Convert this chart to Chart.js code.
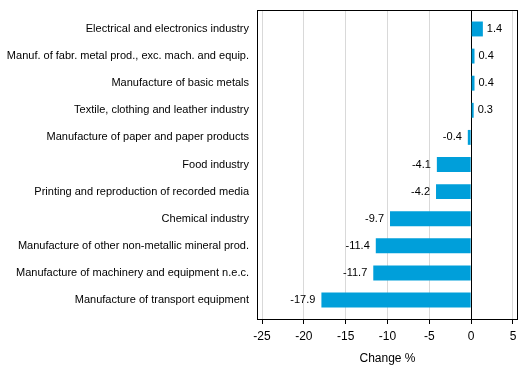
<!DOCTYPE html>
<html>
<head>
<meta charset="utf-8">
<script src="https://cdn.jsdelivr.net/npm/chart.js@4"></script>
<style>
  html, body { margin: 0; padding: 0; background: #fff; }
  #wrap { width: 529px; height: 378px; }
</style>
</head>
<body>
<div id="wrap"><canvas id="barchart"></canvas></div>
<script>
const industries = [
  "Electrical and electronics industry",
  "Manuf. of fabr. metal prod., exc. mach. and equip.",
  "Manufacture of basic metals",
  "Textile, clothing and leather industry",
  "Manufacture of paper and paper products",
  "Food industry",
  "Printing and reproduction of recorded media",
  "Chemical industry",
  "Manufacture of other non-metallic mineral prod.",
  "Manufacture of machinery and equipment n.e.c.",
  "Manufacture of transport equipment"
];
const changes = [1.4, 0.4, 0.4, 0.3, -0.4, -4.1, -4.2, -9.7, -11.4, -11.7, -17.9];
const tickValues = [-25, -20, -15, -10, -5, 0, 5];

Chart.defaults.font.family = "Arial, 'Liberation Sans', sans-serif";
Chart.defaults.font.size = 11;
Chart.defaults.color = "#000";

// black frame round the plot area
const frame = {
  id: "frame",
  afterDraw(chart) {
    const { ctx, chartArea: a } = chart;
    ctx.save();
    ctx.strokeStyle = "#000";
    ctx.lineWidth = 1;
    ctx.strokeRect(Math.round(a.left) + 0.5, Math.round(a.top) + 0.5,
      Math.round(a.right - a.left) - 1, Math.round(a.bottom - a.top));
    ctx.restore();
  }
};

// value labels next to the bars
const valueLabels = {
  id: "valueLabels",
  afterDatasetsDraw(chart) {
    const ctx = chart.ctx;
    const meta = chart.getDatasetMeta(0);
    ctx.save();
    ctx.font = "11px Arial, 'Liberation Sans', sans-serif";
    ctx.fillStyle = "#000";
    ctx.textBaseline = "middle";
    meta.data.forEach((bar, i) => {
      const v = changes[i];
      if (v >= 0) {
        ctx.textAlign = "left";
        ctx.fillText(v.toFixed(1), bar.x + 4, bar.y);
      } else {
        ctx.textAlign = "right";
        ctx.fillText(v.toFixed(1), bar.x - 6, bar.y);
      }
    });
    ctx.restore();
  }
};

new Chart(document.getElementById("barchart"), {
  type: "bar",
  data: {
    datasets: [
      {
        data: changes.map((v, i) => ({ x: v, y: i })),
        backgroundColor: "#009fda",
        borderWidth: 0,
        barPercentage: 0.55,
        categoryPercentage: 1.0
      }
    ]
  },
  options: {
    indexAxis: "y",
    responsive: true,
    maintainAspectRatio: false,
    animation: false,
    layout: { padding: { top: 10, right: 11, left: 0, bottom: 0 } },
    plugins: {
      legend: { display: false },
      tooltip: { enabled: false }
    },
    scales: {
      x: {
        type: "linear",
        min: -25.6,
        max: 5.6,
        afterBuildTicks: (scale) => {
          scale.ticks = tickValues.map((v) => ({ value: v }));
        },
        afterFit: (scale) => { scale.height = 59; },
        grid: {
          color: (c) => (c.tick && c.tick.value === 0 ? "#000" : "#d9d9d9"),
          tickColor: "#000",
          tickLength: 5,
          drawTicks: true
        },
        border: { display: false },
        ticks: { padding: 5, font: { size: 12 }, maxRotation: 0 },
        title: {
          display: true,
          text: "Change %",
          font: { size: 12 },
          padding: { top: 2, bottom: 12 }
        }
      },
      y: {
        type: "linear",
        reverse: true,
        offset: false,
        min: -0.7,
        max: 10.7,
        afterBuildTicks: (scale) => {
          scale.ticks = industries.map((_, i) => ({ value: i }));
        },
        afterFit: (scale) => {
          scale.width = 257;
          scale.paddingTop = 0;
          scale.paddingBottom = 0;
        },
        grid: { display: false, drawTicks: false, offset: false },
        border: { display: false },
        ticks: {
          padding: 8,
          autoSkip: false,
          font: { size: 11 },
          callback: (value) => industries[value]
        }
      }
    }
  },
  plugins: [frame, valueLabels]
});
</script>
</body>
</html>
